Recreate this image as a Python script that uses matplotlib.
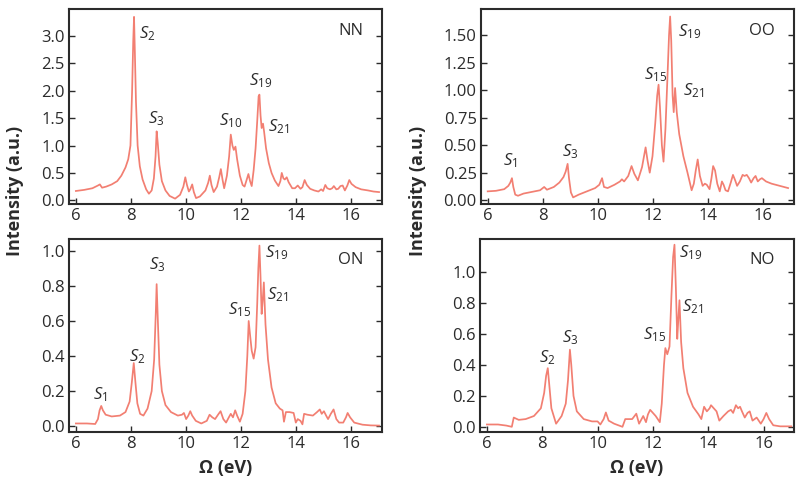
"""Four-panel spectra (NN, OO, ON, NO) with labelled S_n peaks."""

import matplotlib

matplotlib.use("Agg")
import matplotlib.pyplot as plt

plt.rcParams["font.family"] = ["Open Sans", "DejaVu Sans"]
plt.rcParams["mathtext.fontset"] = "custom"
plt.rcParams["mathtext.rm"] = "Open Sans"
plt.rcParams["mathtext.it"] = "Open Sans:italic"

LINE = "#f27f72"
INK = "#2b2b2b"

# ---- data --------------------------------------------------------------
nn_x = [6.0, 6.3, 6.6, 6.8, 6.87, 6.95, 7.1, 7.3, 7.5, 7.65,
        7.8, 7.9, 7.98, 8.04, 8.08, 8.11, 8.14, 8.18, 8.24, 8.32,
        8.42, 8.55, 8.65, 8.75, 8.83, 8.89, 8.93, 8.97, 9.03, 9.12,
        9.25, 9.4, 9.6, 9.78, 9.9, 9.97, 10.03, 10.1, 10.15, 10.22,
        10.28, 10.36, 10.5, 10.7, 10.8, 10.86, 10.92, 11.0, 11.12, 11.2,
        11.26, 11.32, 11.38, 11.48, 11.56, 11.62, 11.68, 11.73, 11.79, 11.85,
        11.95, 12.05, 12.12, 12.2, 12.26, 12.32, 12.38, 12.45, 12.52, 12.58,
        12.63, 12.66, 12.7, 12.74, 12.79, 12.83, 12.9, 13.0, 13.1, 13.22,
        13.35, 13.42, 13.47, 13.53, 13.58, 13.65, 13.72, 13.85, 13.95, 14.05,
        14.15, 14.22, 14.3, 14.38, 14.5, 14.65, 14.8, 14.9, 14.97, 15.05,
        15.12, 15.22, 15.3, 15.36, 15.45, 15.52, 15.6, 15.68, 15.76, 15.85,
        15.92, 16.0, 16.15, 16.35, 16.6, 16.8, 17.0]
nn_y = [0.17, 0.19, 0.22, 0.27, 0.29, 0.23, 0.25, 0.29, 0.35, 0.45,
        0.6, 0.75, 1.0, 2.0, 2.9, 3.35, 2.7, 1.8, 1.0, 0.62,
        0.38, 0.2, 0.12, 0.18, 0.4, 0.8, 1.26, 1.05, 0.65, 0.35,
        0.18, 0.08, 0.03, 0.1, 0.25, 0.42, 0.28, 0.16, 0.2, 0.29,
        0.15, 0.04, 0.07, 0.18, 0.32, 0.45, 0.28, 0.15, 0.25, 0.42,
        0.57, 0.38, 0.22, 0.45, 0.8, 1.2, 1.0, 0.92, 0.98, 0.75,
        0.45, 0.28, 0.25, 0.38, 0.48, 0.35, 0.26, 0.55, 0.95, 1.45,
        1.9, 1.93, 1.55, 1.32, 1.4, 1.25, 0.95, 0.68, 0.5, 0.36,
        0.26, 0.35, 0.5, 0.4, 0.38, 0.42, 0.33, 0.22, 0.22, 0.27,
        0.21, 0.24, 0.37, 0.28, 0.21, 0.18, 0.16, 0.2, 0.17, 0.28,
        0.22, 0.2, 0.22, 0.26, 0.2, 0.21, 0.26, 0.27, 0.18, 0.27,
        0.37, 0.3, 0.24, 0.2, 0.18, 0.16, 0.15]

oo_x = [6.0, 6.3, 6.6, 6.75, 6.82, 6.88, 6.93, 7.0, 7.1, 7.3,
        7.6, 7.9, 8.05, 8.15, 8.4, 8.6, 8.75, 8.83, 8.9, 8.95,
        9.02, 9.1, 9.3, 9.6, 9.9, 10.05, 10.15, 10.22, 10.35, 10.6,
        10.8, 10.87, 10.95, 11.1, 11.22, 11.32, 11.45, 11.6, 11.73, 11.8,
        11.88, 11.98, 12.08, 12.15, 12.2, 12.25, 12.32, 12.38, 12.45, 12.52,
        12.58, 12.62, 12.66, 12.71, 12.75, 12.8, 12.86, 12.95, 13.1, 13.25,
        13.4, 13.48, 13.55, 13.62, 13.7, 13.8, 13.88, 13.95, 14.05, 14.12,
        14.18, 14.25, 14.33, 14.42, 14.5, 14.56, 14.63, 14.72, 14.82, 14.9,
        14.98, 15.05, 15.15, 15.25, 15.32, 15.4, 15.48, 15.56, 15.65, 15.72,
        15.8, 15.88, 15.95, 16.1, 16.3, 16.6, 16.9]
oo_y = [0.08, 0.085, 0.1, 0.13, 0.16, 0.2, 0.12, 0.05, 0.04, 0.06,
        0.075, 0.09, 0.12, 0.095, 0.12, 0.16, 0.21, 0.26, 0.33, 0.2,
        0.07, 0.025, 0.05, 0.08, 0.11, 0.14, 0.2, 0.12, 0.11, 0.14,
        0.17, 0.19, 0.17, 0.22, 0.31, 0.24, 0.18, 0.3, 0.48, 0.36,
        0.25, 0.4, 0.7, 0.95, 1.05, 0.85, 0.5, 0.35, 0.65, 1.1,
        1.5, 1.67, 1.45, 0.95, 0.8, 1.02, 0.8, 0.6, 0.4, 0.25,
        0.09, 0.15, 0.27, 0.37, 0.22, 0.13, 0.15, 0.14, 0.1, 0.2,
        0.31, 0.27, 0.15, 0.08, 0.17, 0.14, 0.09, 0.08, 0.16, 0.23,
        0.18, 0.13, 0.17, 0.23, 0.22, 0.23, 0.2, 0.16, 0.2, 0.22,
        0.17, 0.19, 0.2, 0.17, 0.15, 0.13, 0.11]

on_x = [6.0, 6.4, 6.7, 6.8, 6.86, 6.92, 6.98, 7.08, 7.3, 7.6,
        7.8, 7.95, 8.03, 8.1, 8.16, 8.23, 8.33, 8.45, 8.6, 8.75,
        8.84, 8.9, 8.93, 8.97, 9.03, 9.12, 9.25, 9.45, 9.7, 9.85,
        9.92, 10.0, 10.08, 10.15, 10.22, 10.35, 10.55, 10.75, 10.85, 10.95,
        11.05, 11.18, 11.25, 11.35, 11.45, 11.55, 11.62, 11.7, 11.78, 11.85,
        11.95, 12.05, 12.15, 12.22, 12.27, 12.32, 12.38, 12.45, 12.52, 12.58,
        12.62, 12.66, 12.7, 12.74, 12.78, 12.82, 12.88, 12.97, 13.1, 13.25,
        13.4, 13.5, 13.55, 13.62, 13.75, 13.9, 13.98, 14.05, 14.15, 14.22,
        14.28, 14.4, 14.6, 14.75, 14.85, 14.92, 15.0, 15.08, 15.15, 15.25,
        15.35, 15.45, 15.55, 15.7, 15.8, 15.86, 15.95, 16.1, 16.4, 16.7, 17.0]
on_y = [0.015, 0.015, 0.012, 0.04, 0.09, 0.115, 0.09, 0.065, 0.055, 0.06,
        0.08, 0.14, 0.25, 0.36, 0.25, 0.13, 0.07, 0.06, 0.1, 0.2,
        0.38, 0.65, 0.81, 0.62, 0.35, 0.2, 0.12, 0.08, 0.06, 0.065,
        0.075, 0.04, 0.06, 0.085, 0.06, 0.03, 0.015, 0.03, 0.065, 0.05,
        0.04, 0.07, 0.085, 0.04, 0.02, 0.05, 0.07, 0.05, 0.09, 0.06,
        0.025, 0.07, 0.2, 0.4, 0.6, 0.52, 0.43, 0.385, 0.45, 0.7,
        0.9, 1.03, 0.85, 0.64, 0.72, 0.82, 0.58, 0.38, 0.22, 0.13,
        0.1, 0.09, 0.025, 0.08, 0.08, 0.075, 0.02, 0.04, 0.03, 0.01,
        0.07, 0.065, 0.06, 0.08, 0.095, 0.07, 0.085, 0.06, 0.04, 0.07,
        0.095, 0.04, 0.02, 0.02, 0.05, 0.075, 0.05, 0.02, 0.008, 0.004, 0.003]

no_x = [6.0, 6.4, 6.7, 6.9, 6.97, 7.03, 7.15, 7.4, 7.7, 7.95,
        8.07, 8.14, 8.2, 8.25, 8.33, 8.5, 8.7, 8.85, 8.93, 9.0,
        9.05, 9.13, 9.25, 9.5, 9.8, 10.0, 10.1, 10.22, 10.3, 10.4,
        10.6, 10.9, 11.0, 11.25, 11.4, 11.5, 11.65, 11.75, 11.82, 11.9,
        12.0, 12.1, 12.25, 12.32, 12.4, 12.45, 12.52, 12.6, 12.67, 12.73,
        12.78, 12.83, 12.88, 12.92, 12.96, 13.02, 13.1, 13.25, 13.45, 13.65,
        13.75, 13.85, 13.95, 14.05, 14.1, 14.2, 14.3, 14.4, 14.55, 14.72,
        14.82, 14.9, 15.0, 15.08, 15.15, 15.22, 15.32, 15.42, 15.5, 15.6,
        15.75, 15.9, 16.0, 16.1, 16.2, 16.35, 16.6, 17.0]
no_y = [0.015, 0.015, 0.008, 0.0, 0.06, 0.055, 0.045, 0.05, 0.07, 0.12,
        0.22, 0.33, 0.38, 0.28, 0.12, 0.02, 0.07, 0.15, 0.3, 0.5,
        0.4, 0.2, 0.1, 0.05, 0.035, 0.035, 0.015, 0.05, 0.093, 0.04,
        0.02, 0.0, 0.05, 0.05, 0.085, 0.02, 0.07, 0.03, 0.08, 0.11,
        0.09, 0.07, 0.03, 0.15, 0.4, 0.51, 0.47, 0.52, 0.85, 1.1,
        1.18, 0.9, 0.57, 0.7, 0.82, 0.55, 0.38, 0.22, 0.13, 0.08,
        0.05, 0.13, 0.1, 0.12, 0.14, 0.12, 0.1, 0.04, 0.07, 0.1,
        0.11, 0.09, 0.14, 0.12, 0.13, 0.1, 0.06, 0.09, 0.1, 0.04,
        0.06, 0.02, 0.05, 0.09, 0.05, 0.01, 0.003, 0.003]

x_ticks = [6, 8, 10, 12, 14, 16]

# peak labels: (subscript, x, y)
nn_peaks = [("2", 8.29, 3.04), ("3", 8.62, 1.49), ("10", 11.18, 1.46),
            ("19", 12.28, 2.18), ("21", 12.98, 1.35)]
oo_peaks = [("1", 6.55, 0.36), ("3", 8.69, 0.44), ("15", 11.68, 1.14),
            ("19", 12.92, 1.53), ("21", 13.1, 1.0)]
on_peaks = [("1", 6.63, 0.18), ("2", 7.91, 0.395), ("3", 8.66, 0.92),
            ("15", 11.53, 0.665), ("19", 12.86, 0.99), ("21", 12.92, 0.75)]
no_peaks = [("2", 7.88, 0.45), ("3", 8.71, 0.58), ("15", 11.65, 0.6),
            ("19", 12.94, 1.13), ("21", 13.06, 0.78)]


def draw_panel(ax, xs, ys, name, peaks, ylim, yticks, yfmt):
    ax.plot(xs, ys, color=LINE, lw=1.25, solid_joinstyle="round")
    ax.set_xlim(5.75, 17.1)
    ax.set_ylim(*ylim)
    ax.set_xticks(x_ticks)
    ax.set_yticks(yticks)
    ax.set_yticklabels([yfmt.format(v) for v in yticks])
    ax.tick_params(direction="in", length=4, width=1, colors=INK,
                   labelsize=12, right=True, top=False, pad=3)
    for s in ax.spines.values():
        s.set_color(INK)
        s.set_linewidth(1.5)
    for sub, px, py in peaks:
        ax.text(px, py, r"$S_{\mathrm{%s}}$" % sub, fontsize=12,
                color=INK, ha="left", va="center")
    ax.text(0.94, 0.89, name, transform=ax.transAxes, fontsize=12,
            color=INK, ha="right", va="center")


fig = plt.figure(figsize=(8, 4.86), dpi=100)
ax_nn = fig.add_axes([0.08625, 0.580, 0.391, 0.401])
ax_oo = fig.add_axes([0.601, 0.580, 0.391, 0.401])
ax_on = fig.add_axes([0.08625, 0.111, 0.391, 0.397])
ax_no = fig.add_axes([0.600, 0.111, 0.3925, 0.397])

draw_panel(ax_nn, nn_x, nn_y, "NN", nn_peaks, (-0.07, 3.49),
           [0.0, 0.5, 1.0, 1.5, 2.0, 2.5, 3.0], "{:.1f}")
draw_panel(ax_oo, oo_x, oo_y, "OO", oo_peaks, (-0.036, 1.736),
           [0.0, 0.25, 0.5, 0.75, 1.0, 1.25, 1.5], "{:.2f}")
draw_panel(ax_on, on_x, on_y, "ON", on_peaks, (-0.034, 1.067),
           [0.0, 0.2, 0.4, 0.6, 0.8, 1.0], "{:.1f}")
draw_panel(ax_no, no_x, no_y, "NO", no_peaks, (-0.034, 1.216),
           [0.0, 0.2, 0.4, 0.6, 0.8, 1.0], "{:.1f}")

for xpos in (0.019, 0.523):
    fig.text(xpos, 0.607, "Intensity (a.u.)", rotation=90, ha="center",
             va="center", fontsize=13, fontweight="bold", color=INK)
for xpos in (0.282, 0.796):
    fig.text(xpos, 0.037, "Ω (eV)", ha="center", va="center",
             fontsize=13, fontweight="bold", color=INK)

fig.savefig("out.png", dpi=100)
plt.close(fig)
